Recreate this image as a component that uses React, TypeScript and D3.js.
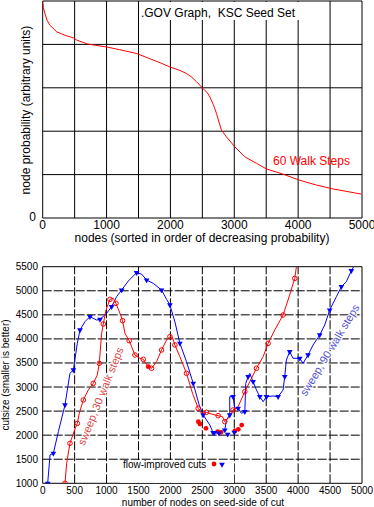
import React from "react";
import * as d3 from "d3";

const topNodes = [0, 10, 36, 70, 115, 219, 350, 480, 532, 700, 1001, 1200, 1470, 1679, 1850, 1992, 2150, 2252, 2330, 2409, 2513, 2580, 2617, 2670, 2721, 2800, 2878, 3008, 3165, 3347, 3504, 3764, 4025, 4286, 4547, 4990];
const topProb = [5.0, 4.85, 4.71, 4.55, 4.44, 4.29, 4.21, 4.15, 4.10, 4.01, 3.94, 3.88, 3.79, 3.67, 3.57, 3.48, 3.40, 3.33, 3.25, 3.14, 2.98, 2.88, 2.79, 2.62, 2.41, 2.02, 1.87, 1.64, 1.41, 1.26, 1.13, 1.01, 0.87, 0.76, 0.67, 0.55];

const topXTicks = [0, 500, 1000, 1500, 2000, 2500, 3000, 3500, 4000, 4500, 5000];
const topXLabels = [0, 1000, 2000, 3000, 4000, 5000];
const topYTicks = [0, 1, 2, 3, 4, 5];

const blueNodes = [78, 115, 167, 245, 349, 427, 480, 542, 584, 662, 740, 845, 897, 1001, 1079, 1157, 1236, 1340, 1470, 1548, 1627, 1731, 1861, 1940, 1992, 2070, 2148, 2252, 2357, 2450, 2513, 2617, 2669, 2773, 2851, 2877, 2929, 2929, 2981, 3008, 3060, 3112, 3165, 3180, 3217, 3243, 3295, 3347, 3400, 3452, 3504, 3608, 3686, 3764, 3790, 3816, 3868, 3920, 4025, 4077, 4155, 4234, 4338, 4416, 4494, 4599, 4677, 4755, 4833, 4870];
const blueCut = [1000, 1589, 1623, 2073, 2627, 3285, 3354, 3908, 4185, 4358, 4462, 4392, 4406, 4531, 4670, 4877, 5015, 5202, 5375, 5348, 5223, 5154, 5015, 4822, 4704, 4358, 3908, 3527, 3077, 2627, 2419, 2212, 2052, 2052, 2107, 2315, 2419, 2800, 2800, 2558, 2558, 2454, 2488, 3077, 3215, 3285, 3111, 2938, 2800, 2696, 2800, 2814, 2800, 2938, 3215, 3562, 3735, 3597, 3597, 3493, 3666, 3874, 4081, 4289, 4600, 4877, 5085, 5188, 5417, 5500];

const redNodes = [349, 375, 427, 490, 542, 573, 636, 714, 792, 855, 886, 923, 949, 991, 1053, 1105, 1147, 1210, 1251, 1288, 1355, 1392, 1444, 1523, 1575, 1653, 1705, 1783, 1861, 1940, 1992, 2033, 2070, 2148, 2252, 2346, 2435, 2487, 2565, 2643, 2747, 2815, 2851, 2929, 2981, 3060, 3165, 3243, 3347, 3452, 3530, 3634, 3764, 3842, 3947, 3973];
const redCut = [1000, 1415, 1831, 2073, 2246, 2454, 2731, 2938, 3077, 3250, 3493, 4116, 4310, 4600, 4822, 4843, 4739, 4531, 4378, 4116, 3963, 3839, 3666, 3597, 3576, 3423, 3389, 3527, 3770, 3978, 4047, 4033, 3874, 3631, 3285, 2869, 2558, 2454, 2475, 2440, 2405, 2385, 2281, 2385, 2523, 2593, 2904, 3111, 3389, 3631, 3908, 4185, 4496, 4808, 5257, 5500];

const flowRedNodes = [1653, 2437, 2463, 2557, 2740, 2792, 3011, 3063, 3116];
const flowRedCut = [3423, 2280, 2232, 2143, 2073, 2060, 2087, 2122, 2210];
const flowBlueNodes = [2687, 2760, 2897, 3000];
const flowBlueCut = [2052, 2040, 2018, 2060];

const botXTicks = [0, 500, 1000, 1500, 2000, 2500, 3000, 3500, 4000, 4500, 5000];
const botYTicks = [1000, 1500, 2000, 2500, 3000, 3500, 4000, 4500, 5000, 5500];

const FONT = "'Liberation Sans', Arial, Helvetica, sans-serif";

export default function App() {
  const L = 42.7, R = 362;
  const tx = d3.scaleLinear().domain([0, 5000]).range([L, R]);
  const ty = d3.scaleLinear().domain([0, 5]).range([218, 1]);
  const bx = d3.scaleLinear().domain([0, 5000]).range([L, R]);
  const by = d3.scaleLinear().domain([1000, 5500]).range([483.3, 266.7]);

  const topLine = d3.line<number>().x((_, i) => tx(topNodes[i])).y((d) => ty(d))(topProb) || "";
  const blueLine = d3.line<number>().x((_, i) => bx(blueNodes[i])).y((d) => by(d))(blueCut) || "";
  const redLine = d3.line<number>().x((_, i) => bx(redNodes[i])).y((d) => by(d))(redCut) || "";
  const tri = d3.symbol().type(d3.symbolTriangle).size(14)() || "";

  return (
    <svg width={374} height={507} style={{ position: "absolute", left: 0, top: 0, background: "#fff" }} fontFamily={FONT}>
      <defs>
        <clipPath id="botclip"><rect x={L} y={266.7} width={R - L} height={483.3 - 266.7} /></clipPath>
        <clipPath id="topclip"><rect x={L} y={0} width={R - L} height={219} /></clipPath>
      </defs>
      {/* top chart grid */}
      {topXTicks.map((t) => (
        <line key={"tx" + t} x1={tx(t)} x2={tx(t)} y1={ty(0)} y2={ty(5)} stroke="#000" strokeWidth={1} />
      ))}
      {topYTicks.map((t) => (
        <line key={"ty" + t} x1={L} x2={R} y1={ty(t)} y2={ty(t)} stroke="#000" strokeWidth={1} />
      ))}
      <path d={topLine} fill="none" stroke="#ff0000" strokeWidth={1} clipPath="url(#topclip)" />
      <rect x={140} y={2} width={159} height={18} fill="#fff" />
      <text x={218} y={17} textAnchor="middle" fontSize={12} style={{ whiteSpace: "pre" }}>{".GOV Graph,\u00a0\u00a0KSC Seed Set"}</text>
      <text x={273} y={165} fontSize={12} fill="#ff0000">60 Walk Steps</text>
      <text x={36} y={221} fontSize={12} textAnchor="end">0</text>
      {topXLabels.map((t) => (
        <text key={"txl" + t} x={tx(t)} y={229} fontSize={12} textAnchor="middle">{t}</text>
      ))}
      <text x={202} y={242} fontSize={12} textAnchor="middle">nodes (sorted in order of decreasing probability)</text>
      <text transform="translate(30,110) rotate(-90)" fontSize={12} textAnchor="middle">node probability (arbitrary units)</text>

      {/* bottom chart grid */}
      {botXTicks.map((t) => (
        <line key={"bx" + t} x1={bx(t)} x2={bx(t)} y1={by(1000)} y2={by(5500)} stroke="#000" strokeWidth={1}
          strokeDasharray={t === 0 || t === 5000 ? undefined : "9,2"} />
      ))}
      {botYTicks.map((t) => (
        <line key={"by" + t} x1={L} x2={R} y1={by(t)} y2={by(t)} stroke="#000" strokeWidth={1}
          strokeDasharray={t === 1000 || t === 5500 ? undefined : "9,2"} />
      ))}
      <rect x={120} y={460} width={114} height={22.8} fill="#fff" />
      <g clipPath="url(#botclip)">
        <path d={blueLine} fill="none" stroke="#0000ff" strokeWidth={1} />
        <path d={redLine} fill="none" stroke="#ff0000" strokeWidth={1} />
        {blueCut.map((v, i) => i % 2 === 0 ? (
          <path key={"bm" + i} d={tri} transform={`translate(${bx(blueNodes[i])},${by(v)}) rotate(180)`} fill="#0000ff" />
        ) : null)}
        {redCut.map((v, i) => i % 2 === 0 ? (
          <circle key={"rm" + i} cx={bx(redNodes[i])} cy={by(v)} r={2.3} fill="none" stroke="#ff0000" strokeWidth={1} />
        ) : null)}
        {flowRedCut.map((v, i) => (
          <circle key={"fr" + i} cx={bx(flowRedNodes[i])} cy={by(v)} r={2.4} fill="#ff0000" />
        ))}
        {flowBlueCut.map((v, i) => (
          <path key={"fb" + i} d={tri} transform={`translate(${bx(flowBlueNodes[i])},${by(v)}) rotate(180)`} fill="#0000ff" />
        ))}
      </g>
      <text transform="translate(101.5,396.5) rotate(-68)" fontSize={11} textAnchor="middle" dominantBaseline="middle" fill="#d84848" stroke="#fff" strokeWidth={2} style={{ paintOrder: "stroke" }}>sweep, 30 walk steps</text>
      <text transform="translate(330.5,350.5) rotate(-59)" fontSize={11} textAnchor="middle" dominantBaseline="middle" fill="#5050d0" stroke="#fff" strokeWidth={2} style={{ paintOrder: "stroke" }}>sweep, 90 walk steps</text>
      <text x={123} y={467.5} fontSize={10}>flow-improved cuts</text>
      <circle cx={214} cy={464} r={2.4} fill="#ff0000" />
      <path d={tri} transform="translate(222,464.5) rotate(180)" fill="#0000ff" />
      {botYTicks.map((t) => (
        <text key={"byl" + t} x={38} y={by(t) + 3.5} fontSize={10} textAnchor="end">{t}</text>
      ))}
      {botXTicks.map((t) => (
        <text key={"bxl" + t} x={bx(t)} y={494} fontSize={10} textAnchor="middle">{t}</text>
      ))}
      <text x={203} y={506} fontSize={10} textAnchor="middle">number of nodes on seed-side of cut</text>
      <text transform="translate(9,375) rotate(-90)" fontSize={10} textAnchor="middle">cutsize (smaller is better)</text>
    </svg>
  );
}
